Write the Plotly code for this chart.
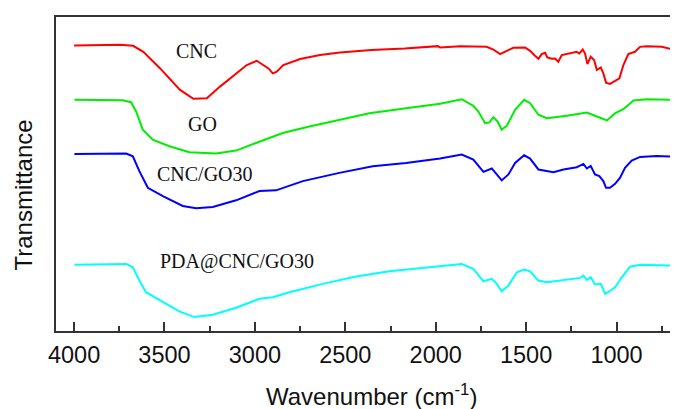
import plotly.graph_objects as go

# Wavenumbers (cm^-1) and relative transmittance (offset, arbitrary units)
cnc_wn = [4000, 3856, 3746, 3674, 3617, 3524, 3414, 3340, 3266, 3193, 3119, 3045, 2990, 2953, 2925,
          2901, 2879, 2843, 2750, 2640, 2529, 2356, 2171, 1987, 1976, 1865, 1718, 1681, 1644, 1607,
          1571, 1506, 1478, 1451, 1432, 1414, 1395, 1383, 1358, 1340, 1322, 1303, 1275, 1248, 1220,
          1206, 1187, 1174, 1161, 1143, 1124, 1109, 1087, 1073, 1058, 1036, 1008, 984, 962, 935,
          898, 870, 833, 750, 704, 685, 661]
cnc_t = [287.0, 287.4, 287.7, 286.7, 280.7, 264.0, 242.4, 233.4, 234.0, 245.7, 256.7, 267.4, 271.7, 267.4, 264.0,
         259.0, 260.7, 267.4, 273.4, 277.4, 280.0, 282.4, 284.0, 286.4, 285.0, 286.4, 285.7, 283.0, 278.4, 281.7,
         284.7, 285.0, 281.7, 276.7, 273.7, 278.4, 279.7, 275.0, 273.7, 274.0, 270.7, 277.4, 278.4, 279.0, 280.7,
         279.0, 283.0, 279.0, 268.4, 275.7, 272.4, 262.4, 265.0, 259.0, 249.7, 248.4, 251.7, 254.0, 267.4, 278.4,
         280.7, 285.7, 286.4, 285.7, 283.7, 285.7, 284.4]

go_wn = [3998, 3731, 3685, 3657, 3620, 3565, 3473, 3362, 3215, 3104, 2994, 2846, 2699, 2533, 2367,
         2164, 1976, 1856, 1792, 1764, 1727, 1703, 1681, 1658, 1635, 1607, 1561, 1511, 1478, 1432,
         1385, 1275, 1164, 1109, 1053, 1007, 962, 906, 833, 661]
go_t = [232.4, 232.0, 230.0, 220.7, 202.4, 192.4, 185.7, 179.7, 178.4, 181.4, 189.0, 199.0, 205.7, 212.4, 219.0,
        224.0, 228.4, 233.0, 226.4, 220.7, 209.0, 209.7, 215.0, 210.7, 202.4, 206.4, 222.4, 232.4, 229.0, 217.4,
        214.0, 216.4, 219.7, 215.7, 211.7, 219.0, 223.0, 231.7, 233.0, 232.4]

cncgo_wn = [3998, 3712, 3675, 3639, 3592, 3509, 3399, 3325, 3233, 3104, 2975, 2883, 2735, 2533, 2348,
            2164, 1976, 1856, 1792, 1736, 1690, 1662, 1635, 1598, 1561, 1511, 1478, 1432, 1385, 1349,
            1293, 1220, 1183, 1164, 1143, 1119, 1095, 1073, 1058, 1036, 1008, 981, 953, 916, 870,
            778, 661]
cncgo_t = [178.0, 178.4, 175.7, 160.7, 144.0, 135.7, 125.7, 123.4, 124.7, 131.4, 140.7, 141.4, 150.7, 159.0, 165.7,
           169.0, 173.4, 177.4, 172.4, 160.0, 163.4, 157.4, 151.4, 157.4, 169.0, 176.7, 173.4, 162.4, 160.7, 159.7,
           162.4, 164.7, 168.0, 163.4, 166.0, 157.4, 155.7, 150.7, 144.0, 144.0, 148.0, 154.0, 164.0, 171.4, 175.0,
           176.0, 175.0]

pda_wn = [3998, 3712, 3675, 3639, 3602, 3509, 3418, 3335, 3233, 3104, 2975, 2901, 2809, 2625, 2440,
          2256, 1976, 1856, 1792, 1736, 1690, 1662, 1635, 1598, 1551, 1511, 1478, 1432, 1385, 1275,
          1201, 1183, 1164, 1143, 1119, 1087, 1063, 1039, 1008, 971, 925, 870, 661]
pda_t = [66.7, 67.4, 64.0, 50.7, 39.0, 29.0, 19.7, 14.0, 16.4, 23.4, 32.4, 34.0, 39.0, 47.4, 54.7,
         60.0, 65.0, 67.4, 62.4, 50.0, 52.4, 47.4, 40.0, 45.7, 59.0, 61.7, 60.0, 50.7, 49.0, 51.4,
         53.4, 55.7, 51.4, 54.0, 46.7, 47.4, 37.4, 40.0, 44.0, 54.0, 64.7, 66.7, 65.7]

series_names = ["CNC", "GO", "CNC/GO30", "PDA@CNC/GO30"]
series_colors = ["#FF0000", "#00EE00", "#0000FF", "#00FFFF"]
label_wn = [3325, 3292, 3275, 3099]
label_t = [282, 208, 157.7, 70.2]

xticks = [4000, 3500, 3000, 2500, 2000, 1500, 1000]

fig = go.Figure()
for wn, t, name, col in zip([cnc_wn, go_wn, cncgo_wn, pda_wn], [cnc_t, go_t, cncgo_t, pda_t],
                            series_names, series_colors):
    fig.add_trace(go.Scatter(x=wn, y=t, mode="lines", name=name,
                             line=dict(color=col, width=2), showlegend=False))

for name, x, y in zip(series_names, label_wn, label_t):
    fig.add_annotation(x=x, y=y, text=name, showarrow=False, xanchor="center", yanchor="middle",
                       font=dict(family="Liberation Serif", size=20, color="#111111"))

fig.add_annotation(xref="paper", yref="paper", x=(371 - 56) / 622, y=(330.7 - 395) / 315.7,
                   xanchor="center", yanchor="middle",
                   text="Wavenumber (cm<sup>-1</sup>)", showarrow=False,
                   font=dict(family="Liberation Sans", size=24, color="#111111"))
fig.add_annotation(xref="paper", yref="paper", x=(24 - 56) / 622, y=(330.7 - 194.5) / 315.7,
                   xanchor="center", yanchor="middle",
                   text="Transmittance", textangle=-90, showarrow=False,
                   font=dict(family="Liberation Sans", size=24, color="#111111"))

# page body has an 8px margin; margins compensate so the plot sits where the reference has it
fig.update_layout(
    width=678, height=409,
    margin=dict(l=48, r=8, t=7, b=86),
    plot_bgcolor="white", paper_bgcolor="white",
    font=dict(family="Liberation Sans", size=23.5, color="#111111"),
)
fig.update_xaxes(range=[4100, 660], tickvals=xticks, ticktext=[str(v) for v in xticks],
                 ticks="inside", ticklen=9, tickwidth=1.5, tickcolor="#333333",
                 ticklabelstandoff=2,
                 minor=dict(ticks="inside", ticklen=5, tickwidth=1.5, tickcolor="#333333",
                            tickvals=[3750, 3250, 2750, 2250, 1750, 1250, 750], showgrid=False),
                 showline=True, linecolor="#333333", linewidth=1.5, mirror=True,
                 showgrid=False, zeroline=False, tickfont=dict(size=23.5))
fig.update_yaxes(range=[0, 315.7], showticklabels=False, ticks="", showgrid=False, zeroline=False,
                 showline=True, linecolor="#333333", linewidth=1.5)

fig.write_html("out.html")
